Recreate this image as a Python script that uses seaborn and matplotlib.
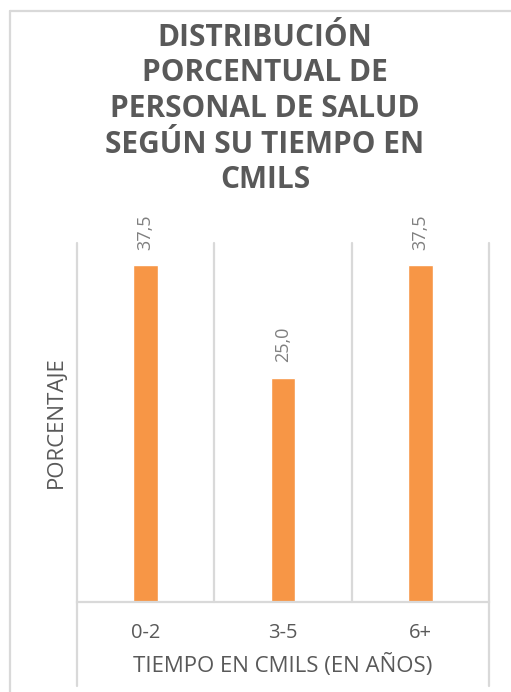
import matplotlib
matplotlib.use("Agg")
import matplotlib.pyplot as plt
from matplotlib.lines import Line2D
import seaborn as sns
import numpy as np

categories = ["0-2", "3-5", "6+"]
values = [37.5, 25.0, 37.5]
value_labels = ["37,5", "25,0", "37,5"]
title = "DISTRIBUCIÓN\nPORCENTUAL DE\nPERSONAL DE SALUD\nSEGÚN SU TIEMPO EN\nCMILS"
xlabel = "TIEMPO EN CMILS (EN AÑOS)"
ylabel = "PORCENTAJE"

sns.set_theme(style="white")
plt.rcParams["font.family"] = ["Open Sans", "DejaVu Sans"]

W, H = 511, 692
fig = plt.figure(figsize=(W / 100, H / 100), dpi=100)
fig.patch.set_facecolor("white")

L, R, T, B = 77, 489, 243, 602
ax = fig.add_axes([L / W, 1 - B / H, (R - L) / W, (B - T) / H])

sns.barplot(x=categories, y=values, color="#F79646", saturation=1, width=0.18, ax=ax)

ax.set_ylim(0, 40)
ax.set_xlim(-0.5, len(categories) - 0.5)
ax.set_yticks([])
for s in ["top", "left", "right"]:
    ax.spines[s].set_visible(False)
ax.spines["bottom"].set_color("#d9d9d9")
ax.spines["bottom"].set_linewidth(1.6)

grid_col = "#d9d9d9"
bounds = np.arange(len(categories) + 1) - 0.5
ext = -(686 - B) / (B - T)
for i, b in enumerate(bounds):
    outer = i == 0 or i == len(bounds) - 1
    ax.axvline(b, ymin=ext if outer else 0, ymax=1, color=grid_col, lw=1.6,
               clip_on=False, zorder=0)

ax.tick_params(axis="x", length=0, pad=15, labelsize=14.5, labelcolor="#595959")

ax.bar_label(ax.containers[0], labels=value_labels, rotation=90, padding=11,
             fontsize=13, color="#7f7f7f")

ax.set_xlabel(xlabel, fontsize=16, color="#595959", labelpad=8)
ax.set_ylabel(ylabel, fontsize=16, color="#595959")
ax.yaxis.set_label_coords(-(L - 67) / (R - L), 0.5)

fig.text(265 / W, 1 - 109 / H, title, ha="center", va="center", fontsize=21.5,
         fontweight="bold", color="#595959", linespacing=1.25)

# chart area border (left and top edges visible)
fig.add_artist(Line2D([10 / W, 10 / W], [0, 1 - 11 / H], color="#d9d9d9", lw=1.6,
                      transform=fig.transFigure))
fig.add_artist(Line2D([10 / W, 1], [1 - 11 / H, 1 - 11 / H], color="#d9d9d9", lw=1.6,
                      transform=fig.transFigure))

fig.savefig("out.png", dpi=100)
